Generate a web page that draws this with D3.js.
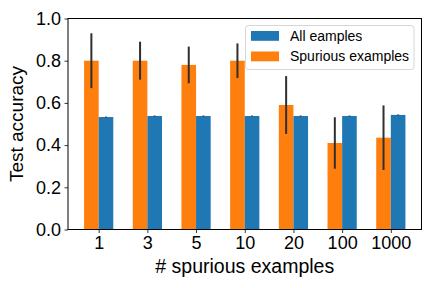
<!DOCTYPE html>
<html>
<head>
<meta charset="utf-8">
<script src="https://cdn.jsdelivr.net/npm/d3@7"></script>
<style>
  body { margin: 0; background: #fff; }
  svg { font-family: "Liberation Sans", Arial, sans-serif; display: block; }
</style>
</head>
<body>
<svg></svg>
<script>
let categories = ["1", "3", "5", "10", "20", "100", "1000"]
let spuriousValues = [0.80, 0.80, 0.78, 0.80, 0.59, 0.41, 0.435]
let spuriousErrors = [0.13, 0.09, 0.087, 0.082, 0.137, 0.122, 0.153]
let allValues = [0.533, 0.538, 0.538, 0.538, 0.538, 0.538, 0.543]
let allErrors = [0.002, 0.002, 0.002, 0.002, 0.002, 0.002, 0.002]
let yTicks = [0, 0.2, 0.4, 0.6, 0.8, 1.0]

let width = 432
let height = 288
let plotLeft = 68, plotRight = 421.5, plotTop = 18.5, plotBottom = 229.5
let barWidth = 0.3

let blue = "#1f77b4"
let orange = "#ff7f0e"

let svg = d3.select("svg").attr("width", width).attr("height", height)

// x is numeric like matplotlib: index positions with 0.05 margins
let xScale = d3.scaleLinear()
    .domain([-0.63, categories.length - 1 + 0.63])
    .range([plotLeft, plotRight])

let yScale = d3.scaleLinear()
    .domain([0, 1])
    .range([plotBottom, plotTop])

let bw = xScale(barWidth) - xScale(0)

// orange bars (spurious)
svg.selectAll("rect.spur")
    .data(spuriousValues)
    .enter()
    .append("rect")
    .attr("x", (d, i) => xScale(i - barWidth))
    .attr("y", d => yScale(d))
    .attr("width", bw)
    .attr("height", d => yScale(0) - yScale(d))
    .attr("fill", orange)

// blue bars (all)
svg.selectAll("rect.all")
    .data(allValues)
    .enter()
    .append("rect")
    .attr("x", (d, i) => xScale(i))
    .attr("y", d => yScale(d))
    .attr("width", bw)
    .attr("height", d => yScale(0) - yScale(d))
    .attr("fill", blue)

// error bars
let errColor = "#2f2f2f"
svg.selectAll("line.errs")
    .data(spuriousValues)
    .enter()
    .append("line")
    .attr("x1", (d, i) => xScale(i - barWidth / 2))
    .attr("x2", (d, i) => xScale(i - barWidth / 2))
    .attr("y1", (d, i) => yScale(d - spuriousErrors[i]))
    .attr("y2", (d, i) => yScale(d + spuriousErrors[i]))
    .attr("stroke", errColor)
    .attr("stroke-width", 2)

svg.selectAll("line.erra")
    .data(allValues)
    .enter()
    .append("line")
    .attr("x1", (d, i) => xScale(i + barWidth / 2))
    .attr("x2", (d, i) => xScale(i + barWidth / 2))
    .attr("y1", (d, i) => yScale(d - allErrors[i]))
    .attr("y2", (d, i) => yScale(d + allErrors[i]))
    .attr("stroke", errColor)
    .attr("stroke-width", 2)

// axes
let xAxis = d3.axisBottom(xScale)
    .tickValues(d3.range(categories.length))
    .tickFormat(i => categories[i])
    .tickSizeOuter(0)
    .tickSize(3.5)
    .tickPadding(3.5)

let yAxis = d3.axisLeft(yScale)
    .tickValues(yTicks)
    .tickFormat(d3.format(".1f"))
    .tickSizeOuter(0)
    .tickSize(3.5)
    .tickPadding(3.5)

let gx = svg.append("g")
    .attr("transform", "translate(0," + plotBottom + ")")
    .call(xAxis)
gx.select(".domain").remove()
gx.selectAll("text").attr("font-size", 18).attr("font-family", "Liberation Sans").attr("fill", "#000")
gx.selectAll("line").attr("stroke", "#000").attr("stroke-width", 0.8)

let gy = svg.append("g")
    .attr("transform", "translate(" + plotLeft + ",0)")
    .call(yAxis)
gy.select(".domain").remove()
gy.selectAll("text").attr("font-size", 18).attr("font-family", "Liberation Sans").attr("fill", "#000")
gy.selectAll("line").attr("stroke", "#000").attr("stroke-width", 0.8)

// frame
svg.append("rect")
    .attr("x", plotLeft)
    .attr("y", plotTop)
    .attr("width", plotRight - plotLeft)
    .attr("height", plotBottom - plotTop)
    .attr("fill", "none")
    .attr("stroke", "#000")
    .attr("stroke-width", 1)

// axis labels
svg.append("text")
    .attr("x", (plotLeft + plotRight) / 2)
    .attr("y", 273)
    .attr("text-anchor", "middle")
    .attr("font-size", 19.5)
    .text("# spurious examples")

svg.append("text")
    .attr("transform", "translate(22.5," + (plotTop + plotBottom) / 2 + ") rotate(-90)")
    .attr("text-anchor", "middle")
    .attr("font-size", 19)
    .text("Test accuracy")

// legend
let legendItems = [["All eamples", blue], ["Spurious examples", orange]]
let lg = svg.append("g")
lg.append("rect")
    .attr("x", 245.5).attr("y", 25.5)
    .attr("width", 168.5).attr("height", 44)
    .attr("rx", 3)
    .attr("fill", "#fff").attr("fill-opacity", 0.8)
    .attr("stroke", "#ccc").attr("stroke-width", 0.8)
lg.selectAll("rect.item")
    .data(legendItems)
    .enter()
    .append("rect")
    .attr("x", 251)
    .attr("y", (d, i) => 31 + i * 20.5)
    .attr("width", 28)
    .attr("height", 9.8)
    .attr("fill", d => d[1])
lg.selectAll("text.item")
    .data(legendItems)
    .enter()
    .append("text")
    .attr("x", 290)
    .attr("y", (d, i) => 40.5 + i * 20.5)
    .attr("font-size", 14)
    .text(d => d[0])
</script>
</body>
</html>
